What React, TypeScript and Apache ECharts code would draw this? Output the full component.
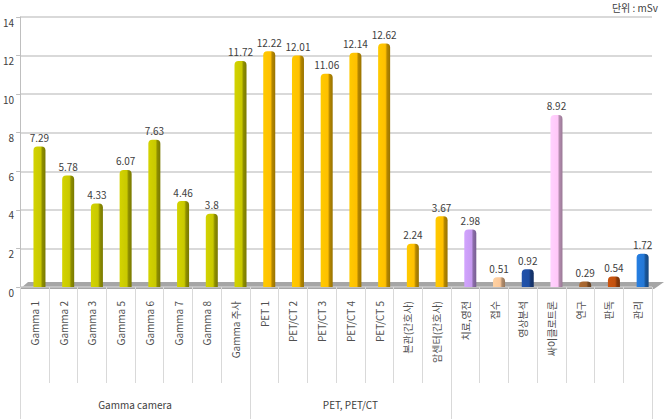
import React, { useEffect, useRef } from "react";
import * as echarts from "echarts";

const categories = [
  "Gamma 1", "Gamma 2", "Gamma 3", "Gamma 5", "Gamma 6", "Gamma 7", "Gamma 8", "Gamma 주사",
  "PET 1", "PET/CT 2", "PET/CT 3", "PET/CT 4", "PET/CT 5", "본관(간호사)", "암센터(간호사)",
  "치료,영전", "접수", "영상분석", "싸이클로트론", "연구", "판독", "관리",
];
const values = [
  7.29, 5.78, 4.33, 6.07, 7.63, 4.46, 3.8, 11.72,
  12.22, 12.01, 11.06, 12.14, 12.62, 2.24, 3.67,
  2.98, 0.51, 0.92, 8.92, 0.29, 0.54, 1.72,
];
const barColors = [
  "#c9c900", "#c9c900", "#c9c900", "#c9c900", "#c9c900", "#c9c900", "#c9c900", "#c9c900",
  "#ffc000", "#ffc000", "#ffc000", "#ffc000", "#ffc000", "#ffc000", "#ffc000",
  "#c79bf2", "#fbc89a", "#1f4ea3", "#ffc8f8", "#a5652e", "#c2510e", "#2478d6",
];
const groupNames = ["Gamma camera", "PET, PET/CT"];
const groupCenters = [4, 11.5];
const groupBounds = [0, 8, 15, 22];
const yTicks = [0, 2, 4, 6, 8, 10, 12, 14];
const unitText = "단위 : mSv";

function shade(hex: string, f: number) {
  const n = parseInt(hex.slice(1), 16);
  const r = Math.round(((n >> 16) & 255) * f);
  const g = Math.round(((n >> 8) & 255) * f);
  const b = Math.round((n & 255) * f);
  const c = (x: number) => Math.min(255, x).toString(16).padStart(2, "0");
  return "#" + c(r) + c(g) + c(b);
}

export default function App() {
  const ref = useRef<HTMLDivElement>(null);
  useEffect(() => {
    if (!ref.current) return;
    const chart = echarts.init(ref.current, null, { renderer: "svg" });
    const font = "'Noto Sans CJK KR', 'Noto Sans', sans-serif";
    chart.setOption({
      animation: false,
      textStyle: { fontFamily: font },
      grid: { left: 20, right: 14, top: 17, bottom: 132, containLabel: false },
      graphic: [
        {
          type: "polygon",
          z: 0,
          shape: { points: [[20, 289], [28, 282], [664, 282], [654, 289]] },
          style: { fill: "#a6a6a6" },
          silent: true,
        },
        {
          type: "text",
          right: 8,
          top: 2,
          style: { text: unitText, fill: "#404040", fontSize: 10, fontFamily: font },
        },
      ],
      xAxis: [
        {
          type: "category",
          data: categories,
          position: "bottom",
          axisLine: { show: true, lineStyle: { color: "#bfbfbf" } },
          axisTick: { show: true, interval: 0, length: 96, lineStyle: { color: "#d9d9d9" } },
          axisLabel: {
            interval: 0,
            rotate: 90,
            margin: 14,
            fontSize: 10,
            color: "#505050",
            fontFamily: font,
          },
          splitLine: { show: false },
        },
        {
          type: "value",
          min: 0,
          max: 22,
          position: "bottom",
          axisLine: { show: false },
          splitLine: { show: false },
          axisTick: {
            show: true,
            length: 132,
            customValues: groupBounds,
            lineStyle: { color: "#d9d9d9" },
          },
          axisLabel: {
            show: true,
            customValues: groupCenters,
            margin: 112,
            fontSize: 10,
            color: "#404040",
            fontFamily: font,
            formatter: (v: number) => {
              const i = groupCenters.indexOf(v);
              return i >= 0 ? groupNames[i] : "";
            },
          },
        },
      ],
      yAxis: {
        type: "value",
        min: 0,
        max: 14,
        interval: 2,
        axisLine: { show: true, lineStyle: { color: "#bfbfbf" } },
        axisTick: { show: true, length: 4, lineStyle: { color: "#bfbfbf" } },
        axisLabel: {
          fontSize: 10,
          color: "#404040",
          margin: 6,
          verticalAlign: "top",
          fontFamily: font,
          customValues: yTicks,
        },
        splitLine: { show: true, lineStyle: { color: "#cdcdcd", width: 1.5 } },
      },
      series: [
        {
          type: "bar",
          xAxisIndex: 0,
          barWidth: 10,
          barGap: "0%",
          silent: true,
          data: values.map(() => null),
        },
        {
          type: "bar",
          xAxisIndex: 0,
          barWidth: 12,
          z: 3,
          data: values.map((v, i) => ({
            value: v,
            itemStyle: {
              color: new echarts.graphic.LinearGradient(0, 0, 1, 0, [
                { offset: 0, color: shade(barColors[i], 1.05) },
                { offset: 0.6, color: barColors[i] },
                { offset: 0.75, color: shade(barColors[i], 0.7) },
                { offset: 1, color: shade(barColors[i], 0.6) },
              ]),
              borderRadius: [4, 4, 0, 0],
            },
          })),
          label: {
            show: true,
            position: "top",
            distance: 4,
            fontSize: 10,
            color: "#404040",
            fontFamily: font,
          },
        },
      ],
    });
    return () => chart.dispose();
  }, []);
  return (
    <div
      ref={ref}
      style={{ position: "absolute", left: 0, top: 0, width: 666, height: 419, background: "#fff" }}
    />
  );
}
